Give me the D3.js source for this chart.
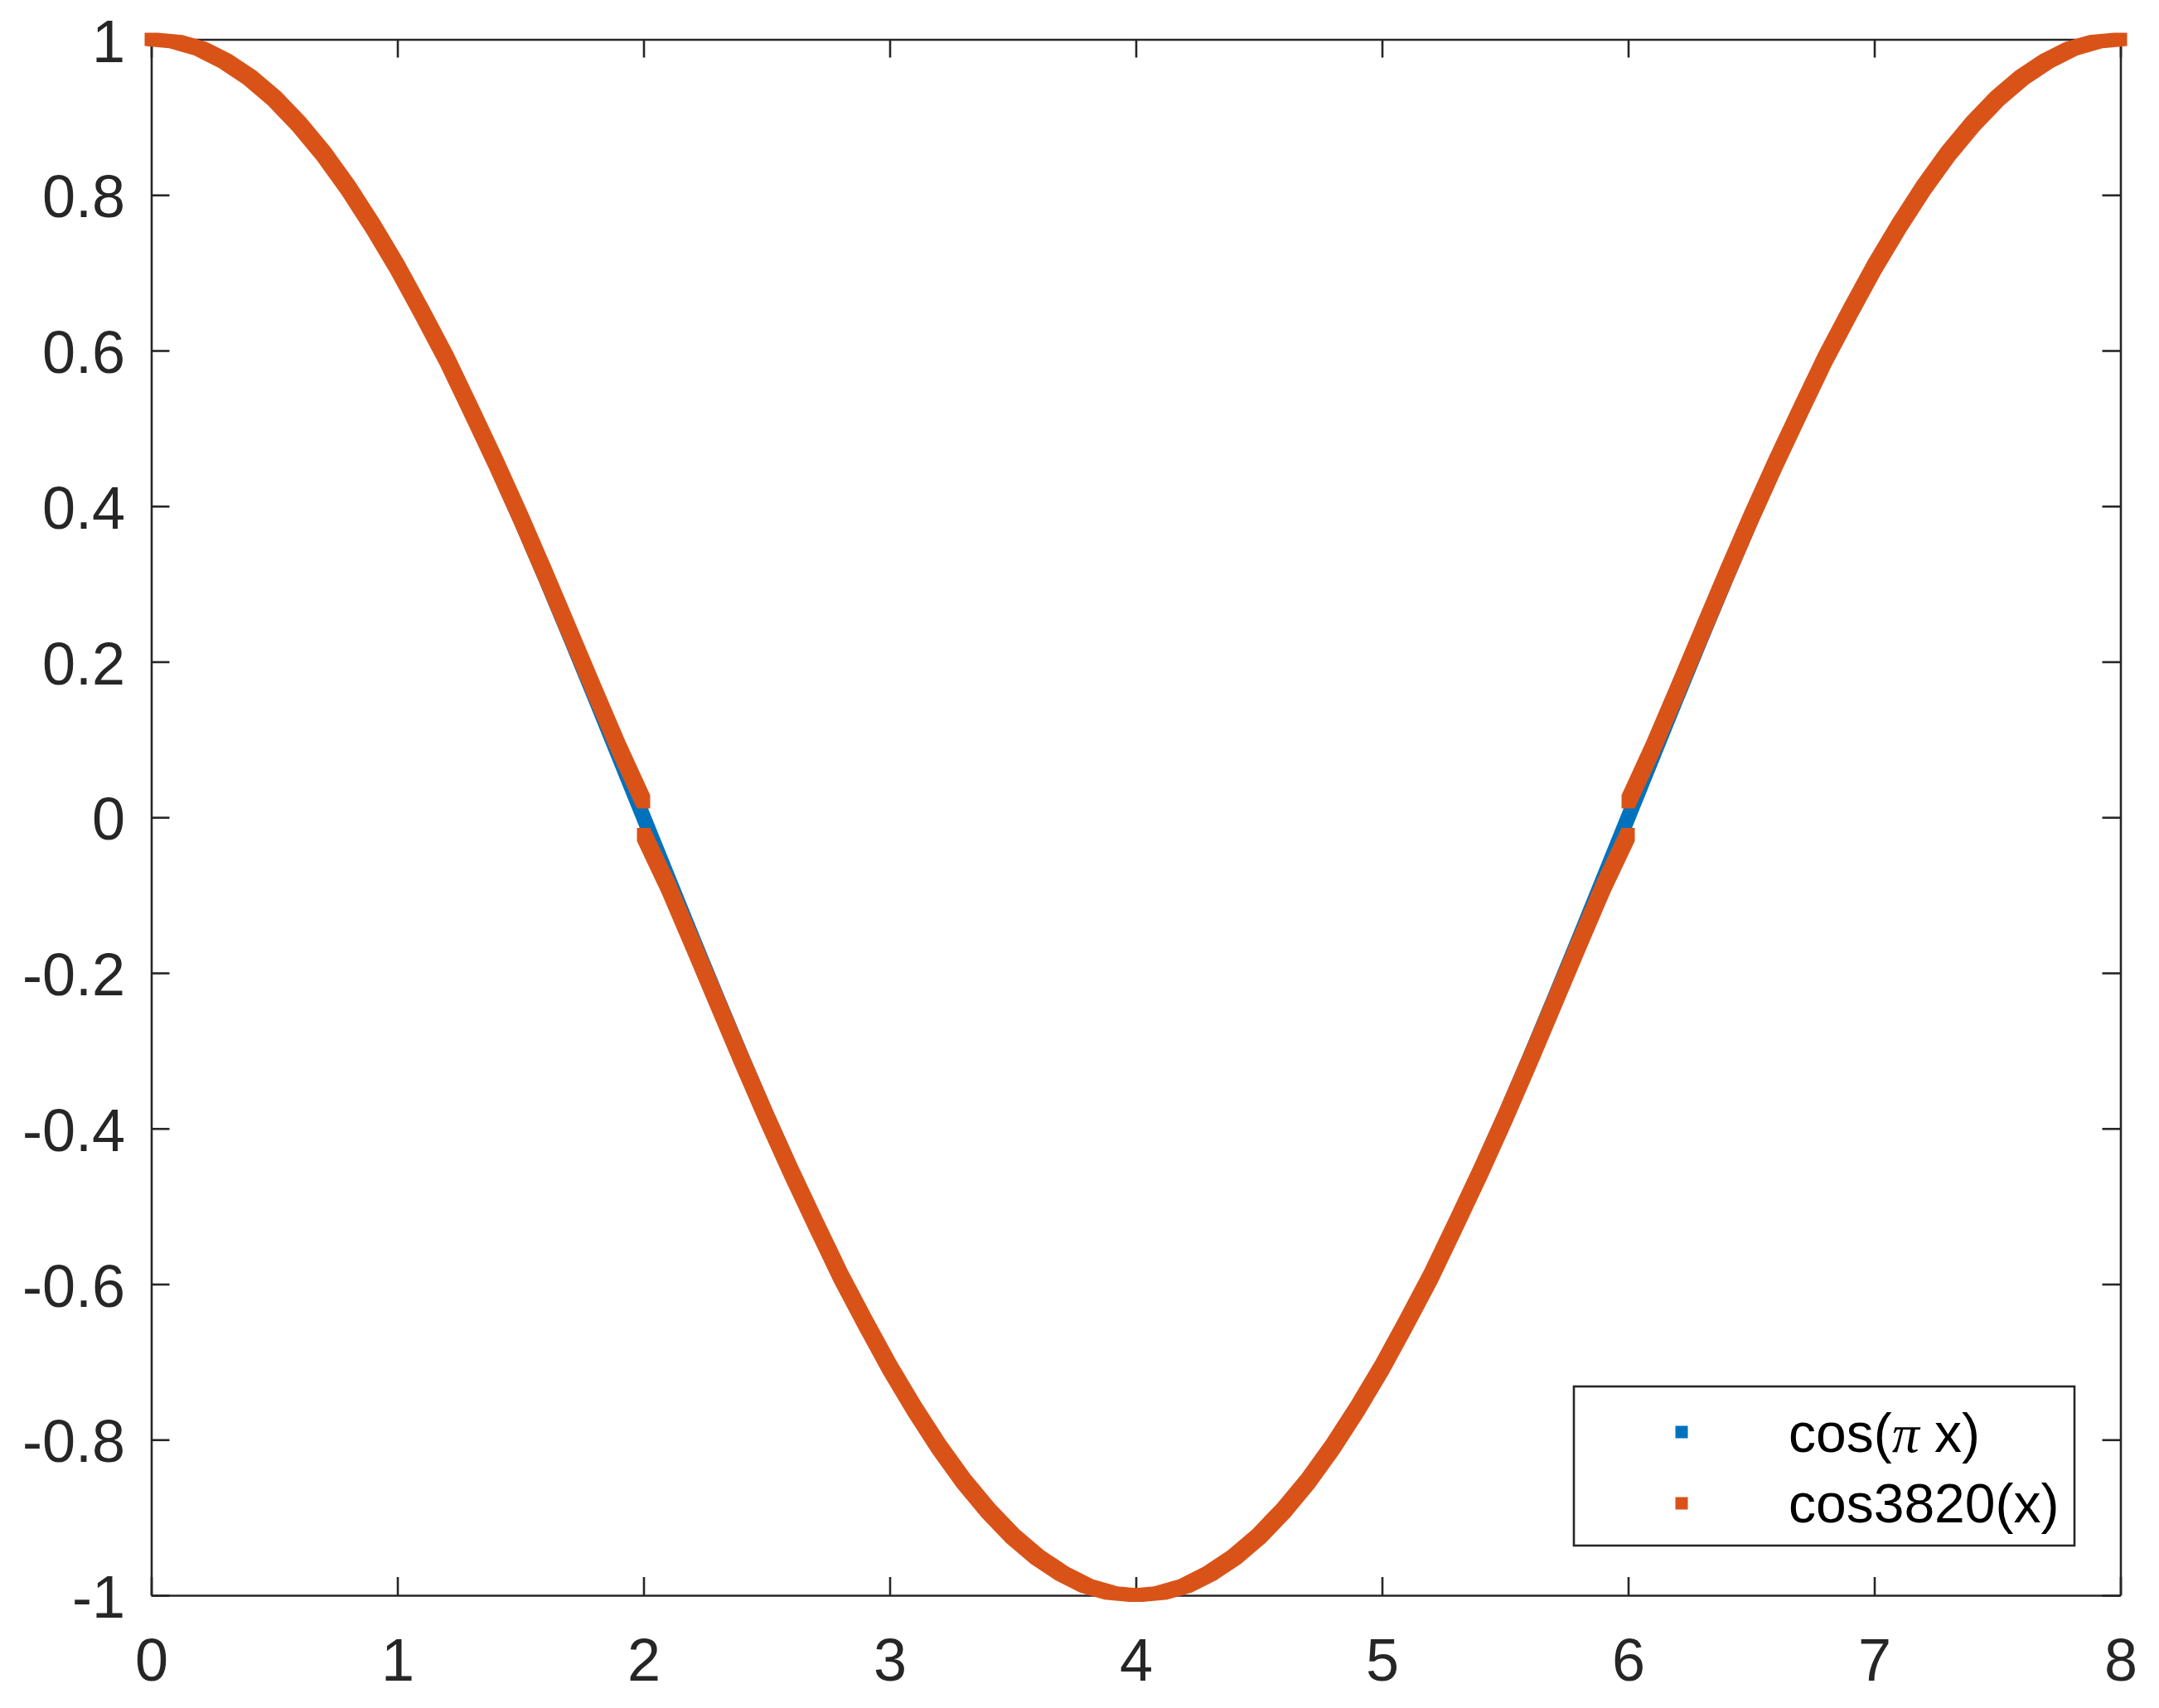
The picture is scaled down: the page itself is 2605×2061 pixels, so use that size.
<!DOCTYPE html>
<html>
<head>
<meta charset="utf-8">
<script src="https://cdn.jsdelivr.net/npm/d3@7"></script>
<style>
  body { margin: 0; background: #fff; }
  text { font-family: "Liberation Sans", Arial, sans-serif; fill: #262626; }
</style>
</head>
<body>
<div id="chart"></div>
<script>
// sample positions read along the x axis
const sampleX = [
  0.0, 0.1, 0.2, 0.3, 0.4, 0.5, 0.6, 0.7, 0.8, 0.9,
  1.0, 1.1, 1.2, 1.3, 1.4, 1.5, 1.6, 1.7, 1.8, 1.9,
  2.0, 2.1, 2.2, 2.3, 2.4, 2.5, 2.6, 2.7, 2.8, 2.9,
  3.0, 3.1, 3.2, 3.3, 3.4, 3.5, 3.6, 3.7, 3.8, 3.9,
  4.0, 4.1, 4.2, 4.3, 4.4, 4.5, 4.6, 4.7, 4.8, 4.9,
  5.0, 5.1, 5.2, 5.3, 5.4, 5.5, 5.6, 5.7, 5.8, 5.9,
  6.0, 6.1, 6.2, 6.3, 6.4, 6.5, 6.6, 6.7, 6.8, 6.9,
  7.0, 7.1, 7.2, 7.3, 7.4, 7.5, 7.6, 7.7, 7.8, 7.9, 8.0
]

// cos(pi x) series (blue)
const blueY = [
  1.000, 0.997, 0.988, 0.972, 0.951, 0.924, 0.891, 0.853, 0.809, 0.760,
  0.707, 0.649, 0.588, 0.522, 0.454, 0.383, 0.309, 0.233, 0.156, 0.078,
  0.000, -0.078, -0.156, -0.233, -0.309, -0.383, -0.454, -0.522, -0.588, -0.649,
  -0.707, -0.760, -0.809, -0.853, -0.891, -0.924, -0.951, -0.972, -0.988, -0.997,
  -1.000, -0.997, -0.988, -0.972, -0.951, -0.924, -0.891, -0.853, -0.809, -0.760,
  -0.707, -0.649, -0.588, -0.522, -0.454, -0.383, -0.309, -0.233, -0.156, -0.078,
  0.000, 0.078, 0.156, 0.233, 0.309, 0.383, 0.454, 0.522, 0.588, 0.649,
  0.707, 0.760, 0.809, 0.853, 0.891, 0.924, 0.951, 0.972, 0.988, 0.997, 1.000
]

// cos3820(x) series (orange), three pieces: x 0-2, 2-6, 6-8
const orangeY1 = [
  1.000, 0.997, 0.988, 0.972, 0.951, 0.924, 0.891, 0.853, 0.809, 0.760,
  0.707, 0.649, 0.589, 0.523, 0.456, 0.386, 0.313, 0.238, 0.163, 0.089, 0.020
]
const orangeY2 = [
  -0.022, -0.089, -0.163, -0.238, -0.313, -0.386, -0.456, -0.523, -0.589, -0.649,
  -0.707, -0.760, -0.809, -0.853, -0.891, -0.924, -0.951, -0.972, -0.988, -0.997,
  -1.000, -0.997, -0.988, -0.972, -0.951, -0.924, -0.891, -0.853, -0.809, -0.760,
  -0.707, -0.649, -0.589, -0.523, -0.456, -0.386, -0.313, -0.238, -0.163, -0.089, -0.022
]
const orangeY3 = [
  0.020, 0.089, 0.163, 0.238, 0.313, 0.386, 0.456, 0.523, 0.589, 0.649,
  0.707, 0.760, 0.809, 0.853, 0.891, 0.924, 0.951, 0.972, 0.988, 0.997, 1.000
]

const xTicks = [0, 1, 2, 3, 4, 5, 6, 7, 8]
const yTicks = [-1, -0.8, -0.6, -0.4, -0.2, 0, 0.2, 0.4, 0.6, 0.8, 1]
const legendLabels = ["cos3820(x)"]

const width = 2605
const height = 2061
const plotLeft = 182.5
const plotRight = 2558.5
const plotTop = 47.5
const plotBottom = 1925
const axisColor = "#262626"
const blue = "#0072BD"
const orange = "#D95319"

const svg = d3
  .select("#chart")
  .append("svg")
  .attr("width", width)
  .attr("height", height)

const xScale = d3.scaleLinear().domain([0, 8]).range([plotLeft, plotRight])
const yScale = d3.scaleLinear().domain([-1, 1]).range([plotBottom, plotTop])

const fmt = d => String(+d.toFixed(1))

// axes, ticks pointing inward on all four sides
const gBottom = svg
  .append("g")
  .attr("transform", `translate(0, ${plotBottom})`)
  .call(
    d3.axisBottom(xScale).tickValues(xTicks).tickSizeInner(-22).tickSizeOuter(0).tickPadding(52).tickFormat(fmt)
  )
const gTop = svg
  .append("g")
  .attr("transform", `translate(0, ${plotTop})`)
  .call(d3.axisTop(xScale).tickValues(xTicks).tickSizeInner(-22).tickSizeOuter(0).tickFormat(""))
const gLeft = svg
  .append("g")
  .attr("transform", `translate(${plotLeft}, 0)`)
  .call(
    d3.axisLeft(yScale).tickValues(yTicks).tickSizeInner(-22).tickSizeOuter(0).tickPadding(31.5).tickFormat(fmt)
  )
const gRight = svg
  .append("g")
  .attr("transform", `translate(${plotRight}, 0)`)
  .call(d3.axisRight(yScale).tickValues(yTicks).tickSizeInner(-22).tickSizeOuter(0).tickFormat(""))

;[gBottom, gTop, gLeft, gRight].forEach(g => {
  g.selectAll(".domain").attr("stroke", axisColor).attr("stroke-width", 2.6)
  g.selectAll(".tick line").attr("stroke", axisColor).attr("stroke-width", 2.6)
  g.selectAll("text").attr("font-size", 72).attr("fill", axisColor).attr("font-family", null)
})
gBottom.attr("font-family", null)
gLeft.attr("font-family", null)
gLeft.selectAll("text").attr("dy", "0.37em")

// dense square markers look like a square swept along the curve
function sweepPath(xs, ys, size) {
  const h = size / 2
  let d = ""
  for (let i = 0; i < xs.length - 1; i++) {
    const x0 = xScale(xs[i])
    const y0 = yScale(ys[i])
    const x1 = xScale(xs[i + 1])
    const y1 = yScale(ys[i + 1])
    const corners = [
      [x0 - h, y0 - h], [x0 + h, y0 - h], [x0 + h, y0 + h], [x0 - h, y0 + h],
      [x1 - h, y1 - h], [x1 + h, y1 - h], [x1 + h, y1 + h], [x1 - h, y1 + h]
    ]
    const hull = d3.polygonHull(corners)
    d += "M" + hull.map(p => p.join(",")).join("L") + "Z"
  }
  return d
}

svg.append("path").attr("d", sweepPath(sampleX, blueY, 14)).attr("fill", blue)

const orangePieces = [
  [sampleX.slice(0, 21), orangeY1],
  [sampleX.slice(20, 61), orangeY2],
  [sampleX.slice(60, 81), orangeY3]
]
orangePieces.forEach(([xs, ys]) => {
  svg.append("path").attr("d", sweepPath(xs, ys, 16)).attr("fill", orange)
})

// legend
const legend = svg.append("g")
legend
  .append("rect")
  .attr("x", 1899)
  .attr("y", 1673)
  .attr("width", 604)
  .attr("height", 192)
  .attr("fill", "#fff")
  .attr("stroke", axisColor)
  .attr("stroke-width", 2.6)

legend.append("rect").attr("x", 2021.5).attr("y", 1720.5).attr("width", 15).attr("height", 15).attr("fill", blue)
legend.append("rect").attr("x", 2021.5).attr("y", 1806.5).attr("width", 15).attr("height", 15).attr("fill", orange)

const t1 = legend.append("text").attr("x", 2158).attr("y", 1752).attr("font-size", 66).style("fill", "#000")
t1.append("tspan").text("cos(")
t1.append("tspan").attr("font-family", "'Liberation Serif', serif").attr("font-style", "italic").text("π")
t1.append("tspan").text(" x)")

legend
  .append("text")
  .attr("x", 2158)
  .attr("y", 1837)
  .attr("font-size", 66)
  .style("fill", "#000")
  .text(legendLabels[0])
</script>
</body>
</html>
